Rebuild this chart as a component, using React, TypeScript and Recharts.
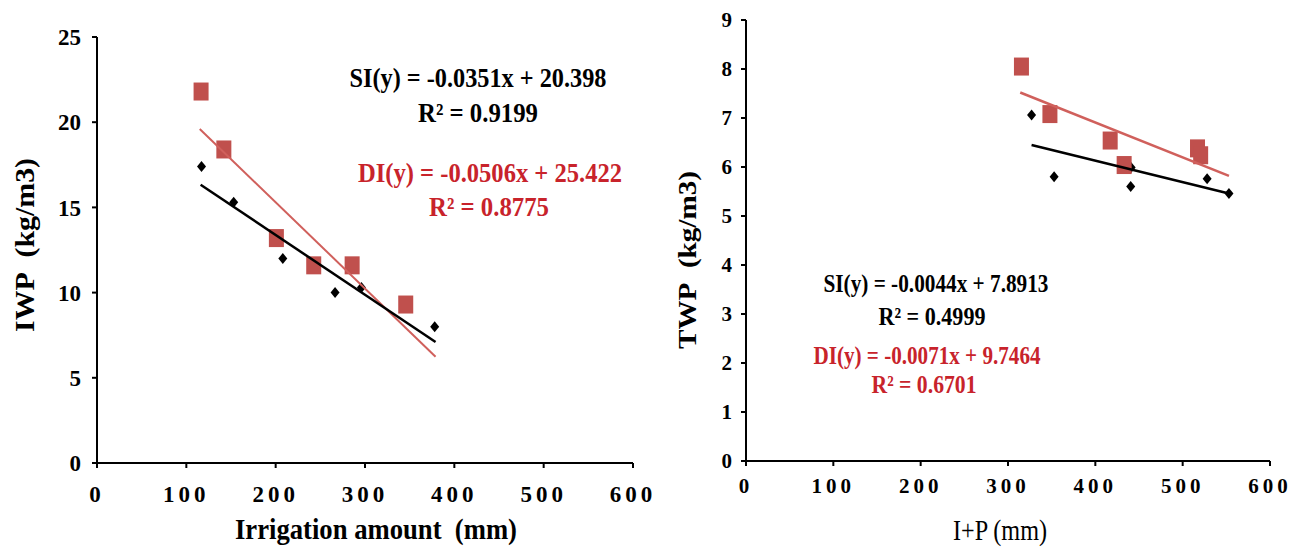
import { ScatterChart, Scatter, XAxis, YAxis } from 'recharts';

// shared axis ticks
const xTicks = [0, 100, 200, 300, 400, 500, 600];
const iwpTicks = [0, 5, 10, 15, 20, 25];
const twpTicks = [0, 1, 2, 3, 4, 5, 6, 7, 8, 9];

// left panel: irrigation amount (mm) vs IWP
const siIrrigation = [117, 153, 208, 266.5, 296, 378];
const siIwp = [17.4, 15.3, 12.0, 10.0, 10.3, 8.0];
const diIrrigation = [116.5, 142, 200.8, 242.6, 285.6, 345.6];
const diIwp = [21.8, 18.4, 13.2, 11.6, 11.6, 9.3];
const siIwpTrendX = [116, 379];
const siIwpTrendY = [16.33, 7.1];
const diIwpTrendX = [115, 379];
const diIwpTrendY = [19.6, 6.24];

// right panel: I+P (mm) vs TWP
const siIp = [327, 352.8, 440.5, 441, 528, 553];
const siTwp = [7.06, 5.8, 5.6, 5.99, 5.76, 5.46];
const diIp = [315.4, 348, 417, 433, 517, 520.6];
const diTwp = [8.05, 7.08, 6.54, 6.04, 6.38, 6.24];
const siTwpTrendX = [327, 553];
const siTwpTrendY = [6.45, 5.46];
const diTwpTrendX = [314, 553];
const diTwpTrendY = [7.52, 5.82];

const pts = (xs: number[], ys: number[]) => xs.map((x, i) => ({ x, y: ys[i] }));

const SERIF = '"Liberation Serif", "Times New Roman", serif';
const RED_MARK = '#c0504d';
const RED_TEXT = '#c8232b';

function Square(props: any) {
  const { cx, cy } = props;
  if (cx == null || cy == null) return <g />;
  return <rect x={cx - 7.5} y={cy - 9} width={15} height={18} fill={RED_MARK} />;
}

function Diamond(props: any) {
  const { cx, cy } = props;
  if (cx == null || cy == null) return <g />;
  return <path d={`M${cx},${cy - 5.5} L${cx + 4.5},${cy} L${cx},${cy + 5.5} L${cx - 4.5},${cy} Z`} fill="#000" />;
}

const NoDot = () => <g />;

const axisLine = { stroke: '#000', strokeWidth: 2 };
const tickLine = { stroke: '#000', strokeWidth: 2 };

function Txt(props: { x: number; y: number; len: number; size: number; fill?: string; bold?: boolean; rotate?: boolean; children: string }) {
  const { x, y, len, size, fill = '#000', bold = true, rotate, children } = props;
  return (
    <text
      x={x}
      y={y}
      textAnchor="middle"
      fontFamily={SERIF}
      fontSize={size}
      fontWeight={bold ? 700 : 400}
      fill={fill}
      textLength={len}
      lengthAdjust="spacingAndGlyphs"
      transform={rotate ? `rotate(-90 ${x} ${y})` : undefined}
    >
      {children}
    </text>
  );
}

function LeftPanel() {
  return (
    <ScatterChart width={660} height={548} margin={{ top: 37, right: 27, bottom: 0, left: 0 }}>
      <XAxis
        type="number" dataKey="x" domain={[0, 600]} ticks={xTicks} interval={0} height={85}
        tickSize={5} tickMargin={18} axisLine={axisLine} tickLine={tickLine}
        tick={{ fill: '#000', fontSize: 23, fontWeight: 700, fontFamily: SERIF, letterSpacing: 4 }}
      />
      <YAxis
        type="number" dataKey="y" domain={[0, 25]} ticks={iwpTicks} interval={0} width={97}
        tickSize={5} tickMargin={11} axisLine={axisLine} tickLine={tickLine}
        tick={{ fill: '#000', fontSize: 23, fontWeight: 700, fontFamily: SERIF }}
      />
      <Scatter data={pts(siIrrigation, siIwp)} shape={Diamond} isAnimationActive={false} />
      <Scatter data={pts(diIrrigation, diIwp)} shape={Square} isAnimationActive={false} />
      <Scatter data={pts(diIwpTrendX, diIwpTrendY)} shape={NoDot} line={{ stroke: '#d0605c', strokeWidth: 2 }} isAnimationActive={false} />
      <Scatter data={pts(siIwpTrendX, siIwpTrendY)} shape={NoDot} line={{ stroke: '#000', strokeWidth: 2.5 }} isAnimationActive={false} />
      <Txt x={478} y={87} len={257} size={27}>SI(y) = -0.0351x + 20.398</Txt>
      <Txt x={478} y={122} len={120} size={27}>R² = 0.9199</Txt>
      <Txt x={490} y={182} len={264} size={27} fill={RED_TEXT}>DI(y) = -0.0506x + 25.422</Txt>
      <Txt x={489} y={216} len={120} size={27} fill={RED_TEXT}>R² = 0.8775</Txt>
      <Txt x={376} y={539} len={282} size={29}>{'Irrigation amount\u00a0 (mm)'}</Txt>
      <Txt x={34} y={245} len={174} size={28} rotate>{'IWP\u00a0 (kg/m3)'}</Txt>
    </ScatterChart>
  );
}

function RightPanel() {
  return (
    <ScatterChart width={638} height={548} margin={{ top: 20, right: 28, bottom: 0, left: 0 }}>
      <XAxis
        type="number" dataKey="x" domain={[0, 600]} ticks={xTicks} interval={0} height={87}
        tickSize={5} tickMargin={12} axisLine={axisLine} tickLine={tickLine}
        tick={{ fill: '#000', fontSize: 21, fontWeight: 700, fontFamily: SERIF, letterSpacing: 4 }}
      />
      <YAxis
        type="number" dataKey="y" domain={[0, 9]} ticks={twpTicks} interval={0} width={86}
        tickSize={5} tickMargin={9} axisLine={axisLine} tickLine={tickLine}
        tick={{ fill: '#000', fontSize: 21, fontWeight: 700, fontFamily: SERIF }}
      />
      <Scatter data={pts(siIp, siTwp)} shape={Diamond} isAnimationActive={false} />
      <Scatter data={pts(diIp, diTwp)} shape={Square} isAnimationActive={false} />
      <Scatter data={pts(diTwpTrendX, diTwpTrendY)} shape={NoDot} line={{ stroke: '#d0605c', strokeWidth: 2.5 }} isAnimationActive={false} />
      <Scatter data={pts(siTwpTrendX, siTwpTrendY)} shape={NoDot} line={{ stroke: '#000', strokeWidth: 2.5 }} isAnimationActive={false} />
      <Txt x={276} y={292} len={225} size={25}>SI(y) = -0.0044x + 7.8913</Txt>
      <Txt x={272} y={325} len={107} size={25}>R² = 0.4999</Txt>
      <Txt x={267} y={364} len={227} size={25} fill={RED_TEXT}>DI(y) = -0.0071x + 9.7464</Txt>
      <Txt x={264} y={393} len={105} size={25} fill={RED_TEXT}>R² = 0.6701</Txt>
      <Txt x={340} y={540} len={94} size={29} bold={false}>I+P (mm)</Txt>
      <Txt x={36} y={260} len={178} size={26} rotate>{'TWP\u00a0 (kg/m3)'}</Txt>
    </ScatterChart>
  );
}

export default function App() {
  return (
    <div style={{ position: 'absolute', left: 0, top: 0, width: 1298, height: 548, background: '#fff' }}>
      <div style={{ position: 'absolute', left: 0, top: 0 }}>
        <LeftPanel />
      </div>
      <div style={{ position: 'absolute', left: 660, top: 0 }}>
        <RightPanel />
      </div>
    </div>
  );
}
